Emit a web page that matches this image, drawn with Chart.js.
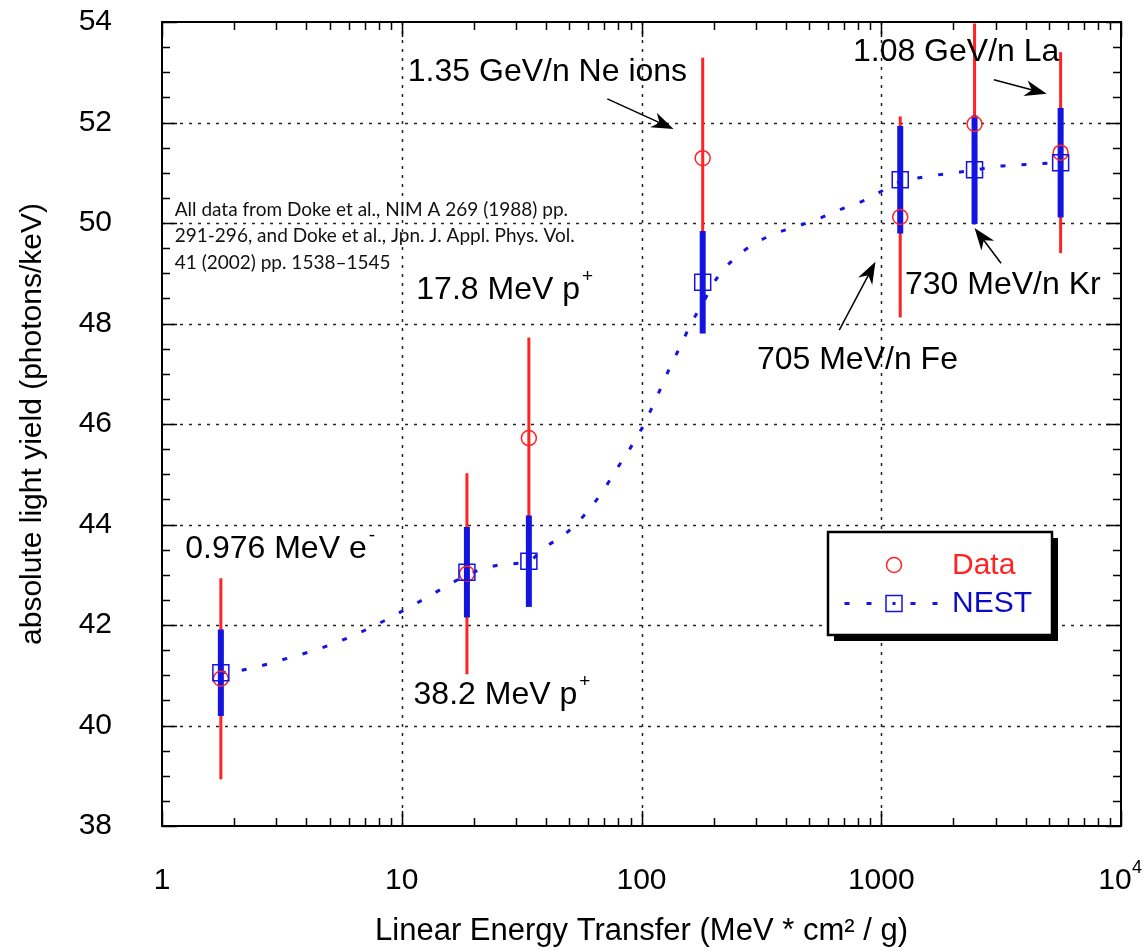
<!DOCTYPE html>
<html>
<head>
<meta charset="utf-8">
<script src="https://cdn.jsdelivr.net/npm/chart.js@4.4.0/dist/chart.umd.min.js"></script>
<style>
  html, body { margin: 0; padding: 0; background: #fff; }
</style>
</head>
<body>
<canvas id="chart" width="1145" height="951"></canvas>
<script>
// LET of each measured particle (MeV cm2/g)
const letValues = [1.76, 18.7, 33.9, 180, 1200, 2450, 5600];
// measured light yield (Doke et al.) and error
const dataYield = [40.93, 43.02, 45.72, 51.29, 50.12, 51.97, 51.40];
const dataErr = [2.0, 2.0, 2.0, 2.0, 2.0, 2.0, 2.0];
// NEST prediction at the same LET and its error
const nestYield = [41.05, 43.05, 43.27, 48.82, 50.86, 51.06, 51.20];
const nestErr = [0.86, 0.90, 0.91, 1.02, 1.07, 1.08, 1.09];
// NEST curve
const curveLET = [1.76, 2.2, 3.3, 5.0, 7.5, 11.3, 17.1, 18.7, 26, 33.9, 39.4, 47.7, 57.8, 67.7, 80, 100, 120, 131.5, 146, 161, 180, 204, 245, 299, 366, 456, 557, 694, 849, 1038, 1200, 1585, 1932, 2450, 2940, 3600, 4480, 5600];
const curveYield = [41.05, 41.11, 41.33, 41.60, 41.96, 42.41, 42.90, 43.00, 43.20, 43.27, 43.54, 43.80, 44.19, 44.61, 45.15, 45.90, 46.70, 47.13, 47.57, 48.00, 48.40, 48.87, 49.30, 49.60, 49.80, 49.95, 50.10, 50.29, 50.45, 50.67, 50.82, 50.93, 50.99, 51.05, 51.12, 51.15, 51.18, 51.20];

const xDecades = [1, 10, 100, 1000, 10000];
const xTickLabels = ['1', '10', '100', '1000', '10'];
const yTicks = [38, 40, 42, 44, 46, 48, 50, 52, 54];

const notes = [
    { text: '1.35 GeV/n Ne ions', sup: '', x: 10.6, y: 53.0 },
    { text: '1.08 GeV/n La', sup: '', x: 762, y: 53.4 },
    { text: '730 MeV/n Kr', sup: '', x: 1256, y: 48.77 },
    { text: '705 MeV/n Fe', sup: '', x: 303, y: 47.27 },
    { text: '17.8 MeV p', sup: '+', x: 11.5, y: 48.67 },
    { text: '0.976 MeV e', sup: '-', x: 1.25, y: 43.5 },
    { text: '38.2 MeV p', sup: '+', x: 11.2, y: 40.6 }
];
// arrows: [tailX, tailY, tipX, tipY] in data units
const arrows = [
    [72, 52.47, 136, 51.87],
    [2950, 52.85, 4900, 52.57],
    [3160, 49.2, 2450, 49.9],
    [668, 47.87, 946, 49.23]
];
const citation = [
    'All data from Doke et al., NIM A 269 (1988) pp.',
    '291-296, and Doke et al., Jpn. J. Appl. Phys. Vol.',
    '41 (2002) pp. 1538\u20131545'
];

const RED = 'rgb(255,35,35)';
const BLUE = 'rgb(20,20,225)';
const FONT = '"Liberation Sans", Arial, sans-serif';

const drawSupText = (ctx, text, sup, x, y, size) => {
    ctx.font = size + 'px ' + FONT;
    ctx.textAlign = 'left';
    ctx.textBaseline = 'middle';
    ctx.fillText(text, x, y);
    if (sup) {
        const w = ctx.measureText(text).width;
        ctx.font = Math.round(size * 0.6) + 'px ' + FONT;
        ctx.fillText(sup, x + w + 2, y - size * 0.42);
    }
};

const arrow = (ctx, x1, y1, x2, y2) => {
    const ang = Math.atan2(y2 - y1, x2 - x1);
    const len = 22, half = 8;
    ctx.strokeStyle = '#000';
    ctx.lineWidth = 1.5;
    ctx.setLineDash([]);
    ctx.beginPath();
    ctx.moveTo(x1, y1);
    ctx.lineTo(x2 - Math.cos(ang) * 10, y2 - Math.sin(ang) * 10);
    ctx.stroke();
    ctx.save();
    ctx.translate(x2, y2);
    ctx.rotate(ang);
    ctx.fillStyle = '#000';
    ctx.beginPath();
    ctx.moveTo(0, 0);
    ctx.lineTo(-len, -half);
    ctx.lineTo(-len * 0.7, 0);
    ctx.lineTo(-len, half);
    ctx.closePath();
    ctx.fill();
    ctx.restore();
};

const underPlugin = {
    id: 'under',
    beforeDatasetsDraw(chart) {
        const ctx = chart.ctx;
        const xs = chart.scales.x, ys = chart.scales.y;
        const a = chart.chartArea;
        ctx.save();
        // dotted grid
        ctx.strokeStyle = '#222';
        ctx.lineWidth = 1.5;
        ctx.setLineDash([3, 6]);
        xDecades.slice(1, -1).forEach(v => {
            const px = Math.round(xs.getPixelForValue(v)) + 0.5;
            ctx.beginPath(); ctx.moveTo(px, a.top); ctx.lineTo(px, a.bottom); ctx.stroke();
        });
        yTicks.slice(1, -1).forEach(v => {
            const py = Math.round(ys.getPixelForValue(v)) + 0.5;
            ctx.beginPath(); ctx.moveTo(a.left, py); ctx.lineTo(a.right, py); ctx.stroke();
        });
        ctx.setLineDash([]);
        // error bars: data (thin red) then NEST (thick blue)
        ctx.lineCap = 'butt';
        ctx.strokeStyle = RED;
        ctx.lineWidth = 3;
        letValues.forEach((v, i) => {
            const px = xs.getPixelForValue(v);
            ctx.beginPath();
            ctx.moveTo(px, ys.getPixelForValue(Math.min(54, dataYield[i] + dataErr[i])));
            ctx.lineTo(px, ys.getPixelForValue(dataYield[i] - dataErr[i]));
            ctx.stroke();
        });
        ctx.strokeStyle = BLUE;
        ctx.lineWidth = 6;
        letValues.forEach((v, i) => {
            const px = xs.getPixelForValue(v);
            ctx.beginPath();
            ctx.moveTo(px, ys.getPixelForValue(nestYield[i] + nestErr[i]));
            ctx.lineTo(px, ys.getPixelForValue(nestYield[i] - nestErr[i]));
            ctx.stroke();
        });
        ctx.restore();
    }
};

const overPlugin = {
    id: 'over',
    afterDraw(chart) {
        const ctx = chart.ctx;
        const xs = chart.scales.x, ys = chart.scales.y;
        const a = chart.chartArea;
        ctx.save();
        // frame
        ctx.strokeStyle = '#000';
        ctx.lineWidth = 2;
        ctx.strokeRect(a.left, a.top, a.right - a.left, a.bottom - a.top);
        ctx.lineWidth = 1.5;
        // x ticks (inward, top and bottom)
        xDecades.forEach((d, j) => {
            const ticks = j < xDecades.length - 1 ? [1, 2, 3, 4, 5, 6, 7, 8, 9] : [1];
            ticks.forEach(k => {
                const px = Math.round(xs.getPixelForValue(d * k)) + 0.5;
                const len = k === 1 ? 15 : 8;
                ctx.beginPath();
                ctx.moveTo(px, a.bottom); ctx.lineTo(px, a.bottom - len);
                ctx.moveTo(px, a.top); ctx.lineTo(px, a.top + len);
                ctx.stroke();
            });
        });
        // y ticks every 0.5
        for (let v = 38; v <= 54.001; v += 0.5) {
            const py = Math.round(ys.getPixelForValue(v)) + 0.5;
            const len = v % 2 === 0 ? 15 : 8;
            ctx.beginPath();
            ctx.moveTo(a.left, py); ctx.lineTo(a.left + len, py);
            ctx.moveTo(a.right, py); ctx.lineTo(a.right - len, py);
            ctx.stroke();
        }
        // x tick labels
        ctx.fillStyle = '#000';
        ctx.font = '30px ' + FONT;
        ctx.textBaseline = 'middle';
        ctx.textAlign = 'center';
        const ly = a.bottom + 55;
        xDecades.forEach((d, j) => {
            const px = xs.getPixelForValue(d);
            if (j < xDecades.length - 1) {
                ctx.fillText(xTickLabels[j], px, ly);
            } else {
                ctx.fillText(xTickLabels[j], px - 6, ly);
                ctx.font = '18px ' + FONT;
                ctx.fillText('4', px + 16, ly - 13);
            }
        });
        // annotations
        ctx.fillStyle = '#000';
        notes.forEach(n => drawSupText(ctx, n.text, n.sup, xs.getPixelForValue(n.x), ys.getPixelForValue(n.y), 32));
        arrows.forEach(r => arrow(ctx, xs.getPixelForValue(r[0]), ys.getPixelForValue(r[1]), xs.getPixelForValue(r[2]), ys.getPixelForValue(r[3])));
        // citation
        ctx.font = '19px Lato, sans-serif';
        ctx.fillStyle = '#111';
        ctx.textAlign = 'left';
        citation.forEach((t, i) => {
            ctx.fillText(t, xs.getPixelForValue(1.13), ys.getPixelForValue(50.27 - i * 0.53), 405);
        });
        // legend box
        const bx = a.right - 293, by = a.top + 510, bw = 224, bh = 103;
        ctx.fillStyle = '#000';
        ctx.fillRect(bx + 6, by + 6, bw, bh);
        ctx.fillStyle = '#fff';
        ctx.fillRect(bx, by, bw, bh);
        ctx.strokeStyle = '#000';
        ctx.lineWidth = 2.5;
        ctx.strokeRect(bx, by, bw, bh);
        const mx = bx + 66;
        ctx.strokeStyle = RED;
        ctx.lineWidth = 1.5;
        ctx.beginPath();
        ctx.arc(mx, by + 33, 7.5, 0, Math.PI * 2);
        ctx.stroke();
        ctx.fillStyle = BLUE;
        [-47, -25, 19, 41].forEach(dx => ctx.fillRect(mx + dx - 2.5, by + 70, 5, 3));
        ctx.strokeStyle = BLUE;
        ctx.strokeRect(mx - 8, by + 63.5, 16, 16);
        ctx.fillRect(mx - 1.5, by + 70, 3, 3);
        ctx.font = '30px ' + FONT;
        ctx.textAlign = 'left';
        ctx.textBaseline = 'middle';
        ctx.fillStyle = RED;
        ctx.fillText('Data', bx + 124, by + 34);
        ctx.fillStyle = 'rgb(10,10,200)';
        ctx.fillText('NEST', bx + 124, by + 72);
        ctx.restore();
    }
};

const ctx = document.getElementById('chart').getContext('2d');
const chart = new Chart(ctx, {
    type: 'scatter',
    data: {
        datasets: [
            {
                type: 'line',
                label: 'NEST curve',
                data: curveLET.map((x, i) => ({ x: x, y: curveYield[i] })),
                borderColor: BLUE,
                borderWidth: 3,
                borderDash: [5, 16],
                pointRadius: 0,
                fill: false,
                tension: 0,
                cubicInterpolationMode: 'monotone',
                order: 3
            },
            {
                label: 'Data',
                data: letValues.map((x, i) => ({ x: x, y: dataYield[i] })),
                pointStyle: 'circle',
                pointRadius: 7.5,
                borderColor: RED,
                borderWidth: 1.5,
                backgroundColor: 'rgba(0,0,0,0)',
                order: 2
            },
            {
                label: 'NEST',
                data: letValues.map((x, i) => ({ x: x, y: nestYield[i] })),
                pointStyle: 'rect',
                pointRadius: 11.3,
                borderColor: BLUE,
                borderWidth: 1.5,
                backgroundColor: 'rgba(0,0,0,0)',
                order: 1
            }
        ]
    },
    options: {
        responsive: false,
        animation: false,
        devicePixelRatio: 1,
        layout: { padding: { top: 22, right: 24, left: 0, bottom: 0 } },
        plugins: {
            legend: { display: false },
            tooltip: { enabled: false }
        },
        scales: {
            x: {
                type: 'logarithmic',
                min: 1,
                max: 10000,
                grid: { display: false, drawTicks: false },
                border: { display: false },
                ticks: { display: false },
                title: {
                    display: true,
                    text: 'Linear Energy Transfer (MeV * cm\u00b2 / g)',
                    color: '#000',
                    font: { family: FONT, size: 31 },
                    padding: { top: 0, bottom: 1 }
                },
                afterFit: (scale) => { scale.height = 125; scale.paddingLeft = 0; scale.paddingRight = 0; }
            },
            y: {
                min: 38,
                max: 54,
                grid: { display: false, drawTicks: false },
                border: { display: false },
                afterBuildTicks: (scale) => { scale.ticks = yTicks.map(v => ({ value: v })); },
                ticks: {
                    color: '#000',
                    padding: 50,
                    font: { family: FONT, size: 30 }
                },
                title: {
                    display: true,
                    text: 'absolute light yield (photons/keV)',
                    color: '#000',
                    font: { family: FONT, size: 30 },
                    padding: { top: 15, bottom: 0 }
                },
                afterFit: (scale) => { scale.width = 162; scale.paddingTop = 0; scale.paddingBottom = 0; }
            }
        }
    },
    plugins: [underPlugin, overPlugin]
});
</script>
</body>
</html>
